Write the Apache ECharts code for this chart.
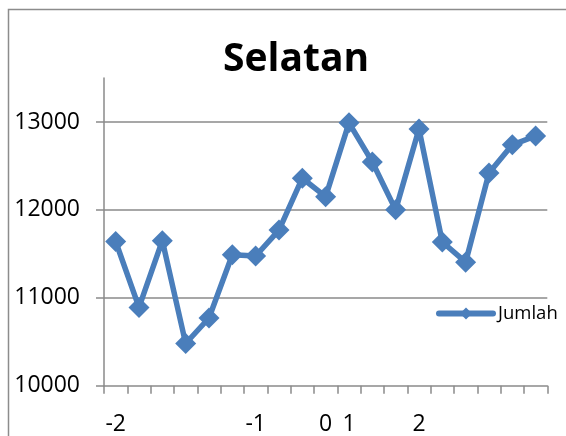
<!DOCTYPE html>
<html>
<head>
<meta charset="utf-8">
<script src="https://cdn.jsdelivr.net/npm/echarts@6/dist/echarts.min.js"></script>
<style>
  html, body { margin: 0; padding: 0; background: #fff; }
  #chart { width: 566px; height: 436px; }
</style>
</head>
<body>
<div id="chart"></div>
<script>
// Category labels along the x axis (only some positions carry a label)
var categories = ['-2', '', '', '', '', '', '-1', '', '', '0', '1', '', '', '2', '', '', '', '', ''];
// Series values
var jumlah = [11640, 10890, 11650, 10480, 10770, 11490, 11475, 11770, 12360, 12150,
              12990, 12545, 12000, 12920, 11635, 11405, 12420, 12740, 12840];
// Value axis tick labels
var yTicks = [10000, 11000, 12000, 13000];

var axisGray = '#8a8a8a';
var fontFam = '"Open Sans", "Noto Sans", sans-serif';

var chart = echarts.init(document.getElementById('chart'), null, { renderer: 'canvas' });
chart.setOption({
  animation: false,
  backgroundColor: '#ffffff',
  graphic: [{
    type: 'rect',
    shape: { x: 8.5, y: 9.5, width: 700, height: 600 },
    style: { fill: 'none', stroke: '#8c8c8c', lineWidth: 1.5 },
    silent: true,
    z: -10
  }],
  title: {
    text: 'Selatan',
    left: 218,
    top: 35,
    textStyle: { fontFamily: fontFam, fontWeight: 'bold', fontSize: 39, color: '#000' }
  },
  legend: {
    data: ['Jumlah'],
    left: 436,
    top: 304,
    padding: 0,
    itemWidth: 54,
    itemHeight: 15,
    itemGap: 0,
    lineStyle: { width: 6 },
    textStyle: { fontFamily: fontFam, fontSize: 18.5, color: '#000' }
  },
  grid: { left: 104, right: 18.7, top: 78, bottom: 50.3, containLabel: false },
  xAxis: {
    type: 'category',
    data: categories,
    boundaryGap: true,
    axisLine: { lineStyle: { color: axisGray, width: 1.5 } },
    axisTick: { show: true, alignWithLabel: false, length: 8, interval: 0, lineStyle: { color: axisGray, width: 1.5 } },
    axisLabel: { interval: 0, margin: 27, fontFamily: fontFam, fontSize: 23, color: '#000' },
    splitLine: { show: false }
  },
  yAxis: {
    type: 'value',
    min: 10000,
    max: 13500,
    interval: 1000,
    axisLine: { show: true, lineStyle: { color: axisGray, width: 1.5 } },
    axisTick: { show: true, length: 8, customValues: yTicks, lineStyle: { color: axisGray, width: 1.5 } },
    axisLabel: {
      customValues: yTicks,
      margin: 24,
      fontFamily: fontFam,
      fontSize: 23,
      color: '#000',
      formatter: function (v) { return String(v); }
    },
    splitLine: {
      show: true,
      showMinLine: false,
      lineStyle: { color: axisGray, width: 1.5 }
    }
  },
  series: [{
    name: 'Jumlah',
    type: 'line',
    data: jumlah,
    symbol: 'diamond',
    symbolSize: 21,
    showAllSymbol: true,
    itemStyle: { color: '#4A7EBB' },
    lineStyle: { color: '#4A7EBB', width: 5.5, cap: 'round', join: 'round' }
  }]
});
</script>
</body>
</html>
